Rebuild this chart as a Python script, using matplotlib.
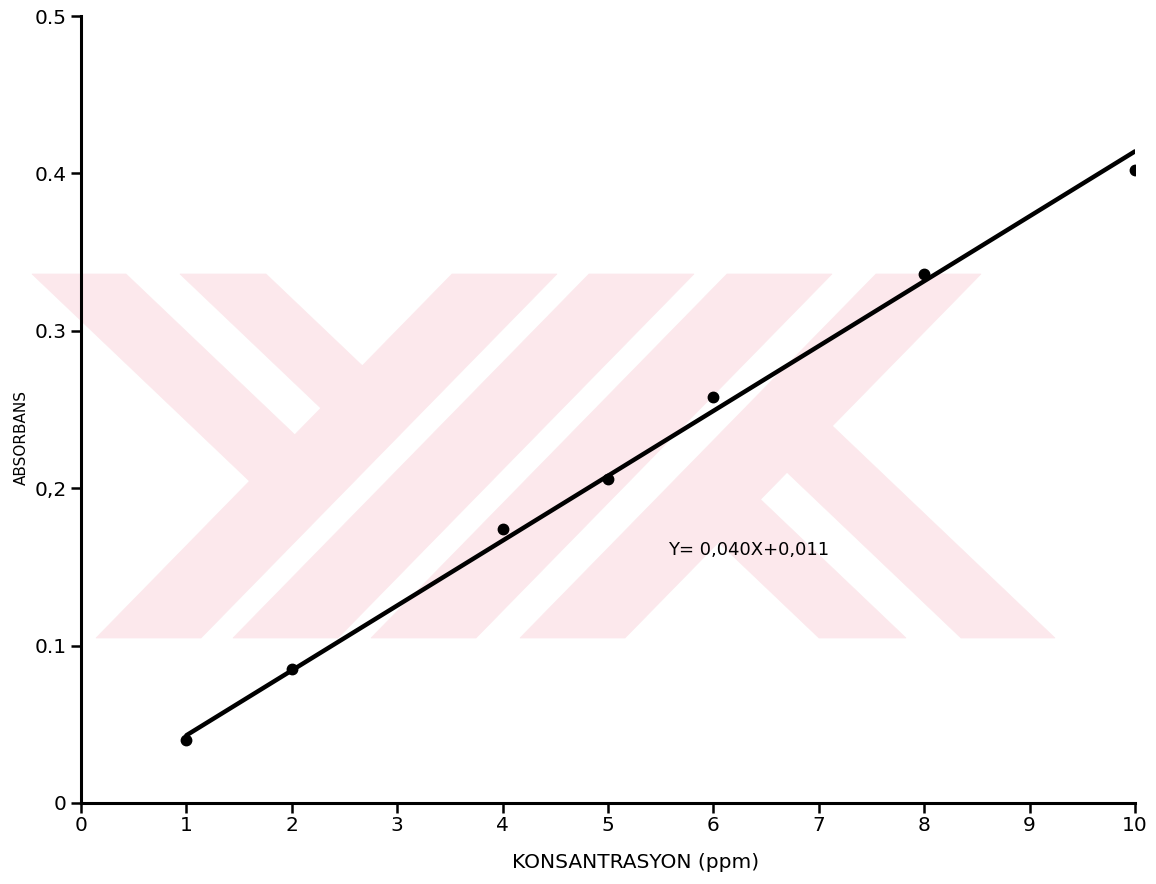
import matplotlib
matplotlib.use("Agg")
import matplotlib.pyplot as plt
from matplotlib.patches import Polygon

# ---- data ----
conc = [1, 2, 4, 5, 6, 8, 10]
absorb = [0.040, 0.085, 0.174, 0.206, 0.258, 0.336, 0.402]
fit_x = [1, 10]
fit_y = [0.043, 0.414]
equation = "Y= 0,040X+0,011"
x_ticks = [0, 1, 2, 3, 4, 5, 6, 7, 8, 9, 10]
x_ticklabels = ["0", "1", "2", "3", "4", "5", "6", "7", "8", "9", "10"]
y_ticks = [0, 0.1, 0.2, 0.3, 0.4, 0.5]
y_ticklabels = ["0", "0.1", "0,2", "0.3", "0.4", "0.5"]
x_label = "KONSANTRASYON (ppm)"
y_label = "ABSORBANS"

W, H = 1156, 884
fig = plt.figure(figsize=(W / 100, H / 100), dpi=100)
fig.patch.set_facecolor("white")

# ---- light pink watermark (decoration, figure pixel coords) ----
PINK = "#FCE8EC"
TOP, BOT = 274, 638


def px(x, y):
    return (x / W, 1 - y / H)


def meet(a1, b1, a2, b2):
    # lines x = a + b*y
    y = (a2 - a1) / (b1 - b2)
    return a1 + b1 * y, y


wm = []
sB = 0.978
for bl in [96, 233, 371, 520]:
    wm.append([(bl, BOT), (bl + 105, BOT),
               (bl + 105 + sB * (BOT - TOP), TOP), (bl + sB * (BOT - TOP), TOP)])
sA = 1.05
cutA = (106 + sB * BOT, -sB)
for xl, xr in [(32, 126), (180, 266)]:
    L = (xl - sA * TOP, sA)
    R = (xr - sA * TOP, sA)
    wm.append([(xl, TOP), (xr, TOP), meet(*R, *cutA), meet(*L, *cutA)])
cutC = (615 + sB * BOT, -sB)
for xl, xr in [(819, 906), (961, 1055)]:
    L = (xl - sA * BOT, sA)
    R = (xr - sA * BOT, sA)
    wm.append([(xl, BOT), (xr, BOT), meet(*R, *cutC), meet(*L, *cutC)])
for poly in wm:
    p = Polygon([px(x, y) for x, y in poly], closed=True, transform=fig.transFigure,
                facecolor=PINK, edgecolor=PINK, linewidth=0.5, zorder=-5)
    fig.add_artist(p)

# ---- axes ----
x0, x1, y0, y1 = 81, 1135, 803, 16
ax = fig.add_axes([x0 / W, 1 - y0 / H, (x1 - x0) / W, (y0 - y1) / H])
ax.set_facecolor("none")
ax.set_xlim(0, 10)
ax.set_ylim(0, 0.5)
for s in ["top", "right"]:
    ax.spines[s].set_visible(False)
for s in ["left", "bottom"]:
    ax.spines[s].set_linewidth(2.2)
    ax.spines[s].set_color("black")

ax.set_xticks(x_ticks)
ax.set_xticklabels(x_ticklabels)
ax.set_yticks(y_ticks)
ax.set_yticklabels(y_ticklabels)
ax.tick_params(axis="both", direction="out", length=7.5, width=1.8,
               labelsize=14.5, colors="black")
ax.tick_params(axis="y", pad=3)
ax.tick_params(axis="x", pad=2)

ax.plot(fit_x, fit_y, color="black", linewidth=3.2, solid_capstyle="round", zorder=3)
ax.plot(conc, absorb, linestyle="none", marker="o", markersize=7.5,
        color="black", zorder=4)

ax.text(5.57, 0.161, equation, fontsize=13, ha="left", va="center", color="black")

ax.set_xlabel(x_label, fontsize=14.5)
ax.xaxis.set_label_coords(0.526, -0.075)
ax.xaxis.label.set_va("center")
ax.set_ylabel(y_label, fontsize=11)
ax.yaxis.set_label_coords(-0.057, 0.464)
ax.yaxis.label.set_va("center")
ax.yaxis.label.set_ha("center")

fig.savefig("out.png", dpi=100, facecolor="white")
